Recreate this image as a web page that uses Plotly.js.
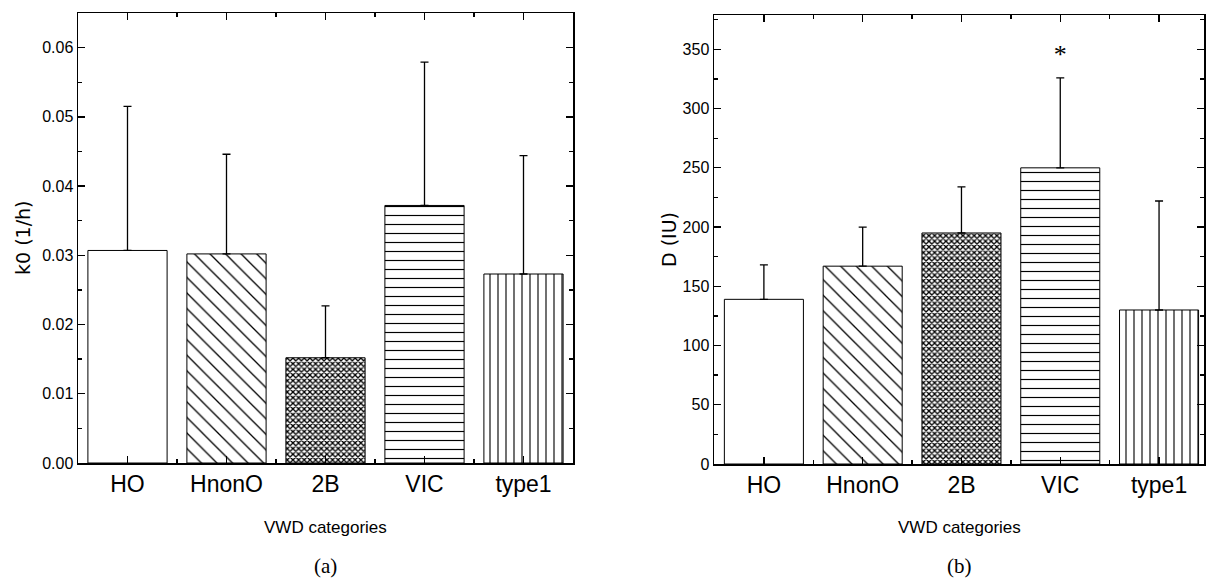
<!DOCTYPE html>
<html>
<head>
<meta charset="utf-8">
<script src="https://cdn.plot.ly/plotly-3.0.1.min.js"></script>
<style>html,body{margin:0;padding:0;background:#fff;}#chart{width:1208px;height:584px;}</style>
</head>
<body>
<div id="chart"></div>
<script>
// ---- data ----
const categories = ["HO", "HnonO", "2B", "VIC", "type1"];
const k0Mean = [0.0307, 0.0302, 0.0152, 0.0372, 0.0273];
const k0SD   = [0.0208, 0.0144, 0.0075, 0.0207, 0.0171];
const dMean  = [139, 167, 195, 250, 130];
const dSD    = [29, 33, 39, 76, 92];
const starLabels = ["", "", "", "*", ""];
const starY      = [null, null, null, 344, null];
const patternShapes = ["", "\\", "x", "-", "|"];
const patternSizes  = [8, 11, 4, 9, 8];
const patternSolid  = [0.1, 0.12, 0.55, 0.13, 0.14];

const idx = categories.map((c, i) => i);
const FONT = "Liberation Sans, Arial, sans-serif";
const TITLE_FONT = "DejaVu Sans, Liberation Sans, sans-serif";

function barTraces(means, sds, xa, ya) {
  return categories.map((c, i) => ({
    type: "bar",
    x: [idx[i]],
    y: [means[i]],
    width: 0.8,
    xaxis: xa, yaxis: ya,
    marker: {
      color: "#ffffff",
      line: {color: "#000", width: 1},
      pattern: {shape: patternShapes[i], size: patternSizes[i], solidity: patternSolid[i], fgcolor: "#000", bgcolor: "#fff", fillmode: "replace"}
    },
    error_y: {type: "data", symmetric: false, array: [sds[i]], arrayminus: [0], color: "#000", thickness: 1.3, width: 4},
    showlegend: false,
    hoverinfo: "skip"
  }));
}

const traces = [
  ...barTraces(k0Mean, k0SD, "x", "y"),
  ...barTraces(dMean, dSD, "x2", "y2"),
  {
    type: "scatter", mode: "text", x: idx, y: starY, text: starLabels,
    textposition: "middle center", xaxis: "x2", yaxis: "y2",
    textfont: {family: "Liberation Serif, Times New Roman, serif", size: 26, color: "#000"},
    showlegend: false, hoverinfo: "skip"
  }
];

function xAxis(domain, range) {
  return {
    domain: domain, range: range,
    tickmode: "array", tickvals: idx, ticktext: categories,
    ticks: "inside", ticklen: 7, tickwidth: 1.3, tickcolor: "#000",
    minor: {dtick: 0.5, tick0: 0, ticks: "inside", ticklen: 4, tickwidth: 1.3, tickcolor: "#000"},
    showline: true, linecolor: "#000", linewidth: 1.5, mirror: "allticks",
    showgrid: false, zeroline: false,
    tickfont: {family: FONT, size: 23, color: "#000"},
    fixedrange: true
  };
}
function yAxis(domain, range, dtick, fmt, anchor) {
  return {
    domain: domain, range: range, anchor: anchor,
    dtick: dtick, tick0: 0, tickformat: fmt,
    ticks: "inside", ticklen: 7, tickwidth: 1.3, tickcolor: "#000",
    minor: {dtick: dtick / 2, ticks: "inside", ticklen: 4, tickwidth: 1.3, tickcolor: "#000"},
    showline: true, linecolor: "#000", linewidth: 1.5, mirror: "allticks",
    showgrid: false, zeroline: false,
    tickfont: {family: FONT, size: 16, color: "#000"},
    fixedrange: true
  };
}

const layout = {
  width: 1208, height: 584,
  margin: {l: 0, r: 0, t: 0, b: 0},
  paper_bgcolor: "#fff", plot_bgcolor: "#fff",
  showlegend: false,
  bargap: 0.2,
  xaxis: Object.assign(xAxis([78/1208, 573/1208], [-0.5, 4.5]), {anchor: "y"}),
  yaxis: yAxis([1 - 463/584, 1 - 13/584], [0, 0.065], 0.01, ".2f", "x"),
  xaxis2: Object.assign(xAxis([714/1208, 1204/1208], [-0.505, 4.455]), {anchor: "y2"}),
  yaxis2: yAxis([1 - 464/584, 1 - 15/584], [0, 379], 50, "d", "x2"),
  annotations: [
    {text: "k0 (1/h)", xref: "paper", yref: "paper", x: 23/1208, y: 1 - 238/584, textangle: -90, showarrow: false, font: {family: TITLE_FONT, size: 19, color: "#000"}, xanchor: "center", yanchor: "middle"},
    {text: "D (IU)", xref: "paper", yref: "paper", x: 669/1208, y: 1 - 240/584, textangle: -90, showarrow: false, font: {family: TITLE_FONT, size: 19, color: "#000"}, xanchor: "center", yanchor: "middle"},
    {text: "VWD categories", xref: "paper", yref: "paper", x: 325/1208, y: 1 - 527/584, showarrow: false, font: {family: FONT, size: 17, color: "#000"}, xanchor: "center", yanchor: "middle"},
    {text: "VWD categories", xref: "paper", yref: "paper", x: 959/1208, y: 1 - 527/584, showarrow: false, font: {family: FONT, size: 17, color: "#000"}, xanchor: "center", yanchor: "middle"},
    {text: "(a)", xref: "paper", yref: "paper", x: 325/1208, y: 1 - 566/584, showarrow: false, font: {family: "Liberation Serif, Times New Roman, serif", size: 21, color: "#000"}, xanchor: "center", yanchor: "middle"},
    {text: "(b)", xref: "paper", yref: "paper", x: 960/1208, y: 1 - 566/584, showarrow: false, font: {family: "Liberation Serif, Times New Roman, serif", size: 21, color: "#000"}, xanchor: "center", yanchor: "middle"}
  ]
};

Plotly.newPlot("chart", traces, layout, {staticPlot: true, displayModeBar: false});
</script>
</body>
</html>
